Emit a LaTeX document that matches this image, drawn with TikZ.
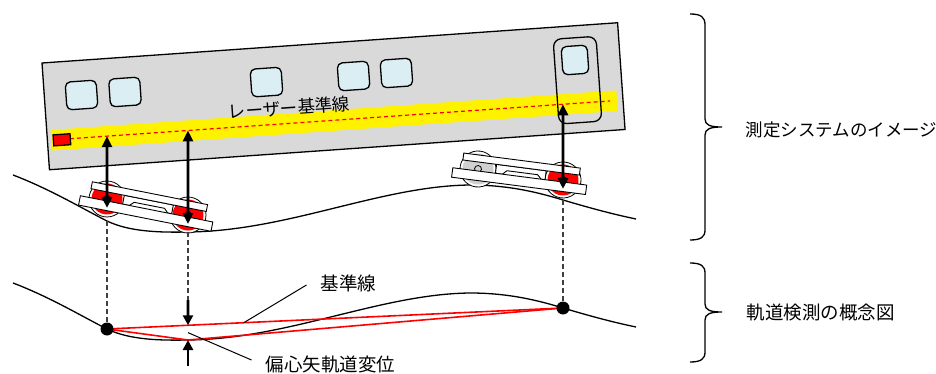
\documentclass[tikz,border=0pt]{standalone}
\usepackage{fontspec}
\newfontfamily\jp{Noto Sans CJK JP}
\usetikzlibrary{arrows.meta,calc}
\definecolor{bodygray}{HTML}{D9D9D9}
\definecolor{glass}{HTML}{DAEEF3}
\definecolor{wheelgray}{HTML}{D0D0D0}
\definecolor{rulegray}{HTML}{404040}
\begin{document}
\begin{tikzpicture}[x=1pt,y=-1pt,
  bodyline/.style={draw=black,line width=1.3pt},
  window/.style={bodyline,fill=glass,rounded corners=5pt},
  laser/.style={red,line width=1.2pt,dash pattern=on 4pt off 3pt},
  measure/.style={line width=2.8pt,>={Triangle[length=11pt,width=10pt]},<->},
  gauge/.style={line width=2.8pt,>={Triangle[length=10pt,width=10pt]},->},
  drop/.style={rulegray,line width=1.3pt,dash pattern=on 5pt off 3pt},
  rail/.style={line width=1.3pt},
  chord/.style={red,line width=1.6pt},
  leader/.style={line width=1pt},
  bracket/.style={line width=1.3pt},
  bogieframe/.style={draw=black,line width=0.9pt,fill=white},
  trackdot/.style={circle,fill=black,inner sep=0pt,minimum size=13pt},
  jplabel/.style={font=\jp\fontsize{18.5}{20}\selectfont,inner sep=0pt},
  jpkana/.style={font=\jp\fontsize{17.5}{20}\selectfont,inner sep=0pt},
  % one track line; the upper copy is the same line shifted up
  pics/track/.style={code={
    \draw[rail] (13,283) .. controls (50,297) and (85,318) .. (107,329)
      .. controls (130,340) and (160,340.5) .. (188,340)
      .. controls (288,339) and (380,294) .. (470,293)
      .. controls (510,293) and (540,301) .. (563,308)
      .. controls (590,316) and (612,322) .. (636,327);
  }},
  % bogie: #1 half wheel base, #2 rear wheel colour, #3 front wheel colour
  pics/bogie/.style n args={3}{code={
    \coordinate (-w1) at ({-#1},0);
    \coordinate (-w2) at (#1,0);
    \draw[line width=0.8pt,fill=white] (-w1) circle[radius=18pt];
    \fill[#2] (-w1) circle[radius=15.5pt];
    \draw[line width=0.8pt,fill=white] (-w2) circle[radius=18pt];
    \fill[#3] (-w2) circle[radius=15.5pt];
    \draw[line width=0.8pt,fill=#2] (-w1) circle[radius=3.5pt];
    \draw[line width=0.8pt,fill=#3] (-w2) circle[radius=3.5pt];
    \draw[bogieframe] (-25,-7) -- (25,-7) -- (25,2) -- (21,2) -- (17,-2)
      -- (-14,-2) -- (-18,2) -- (-25,2) -- cycle;
    \draw[bogieframe] (-59,-14) rectangle (58.5,-7);
    \draw[bogieframe] (-68,2) rectangle (67,11.5);
  }}
]
\useasboundingbox (0,0) rectangle (936,374);
\fill[white] (0,0) rectangle (936,374);

% tracks
\pic at (0,-108) {track};
\pic at (0,0) {track};

% car body
\begin{scope}[shift={(42,63)},rotate=4]
  \draw[bodyline,fill=bodygray] (0,0) rectangle (577,107);
  \foreach \u in {37.2,80.8,222.6,309.9,352.9}
    \draw[window] (\u-15.5,20.8) rectangle (\u+15.5,48.6);
  \draw[window] (518.9,20.1) rectangle (544.9,48.3);
  \fill[yellow] (4,67.4) rectangle (571,88);
  \draw[bodyline,rounded corners=8pt] (511.5,12) rectangle (554.5,97);
  \coordinate (L0) at (22.6,77.5);
  \coordinate (L1) at (564,77.5);
  \draw[laser] (L0) -- (L1);
  \draw[bodyline,fill=red] (6,72.5) rectangle (23,83.5);
  \node[jpkana,rotate=4] (laserlabel) at (243.3,62) {レーザー基準線};
\end{scope}

% bogies
\pic[rotate=-11.2] (bA) at (147.5,207) {bogie={41.28}{red}{red}};
\pic[rotate=-7.37] (bB) at (520.5,174.5) {bogie={42.85}{wheelgray}{red}};

\coordinate (w1) at (bA-w1);
\coordinate (w2) at (bA-w2);
\coordinate (w3) at (bB-w2);
\foreach \i in {1,2,3} {
  \coordinate (g\i) at ($(w\i)+(0,-90)$);
  \coordinate (t\i) at (intersection of L0--L1 and w\i--g\i);
  \coordinate (s\i) at ($(w\i)+(0,9)$);
  \draw[measure] (t\i) -- (s\i);
}

% measured points on the track
\coordinate (d1) at (107,329);
\coordinate (d2) at (188,340);
\coordinate (d3) at (563,308);
\coordinate (c1) at ($(d1)+(0,-108)$);
\coordinate (c2) at ($(d2)+(0,-108)$);
\coordinate (c3) at ($(d3)+(0,-108)$);
\coordinate (a2) at (188,300);
\coordinate (a3) at (188,366);

\draw[drop] (c1) -- (d1);
\draw[drop] (c2) -- (a2);
\draw[drop] (c3) -- (d3);

% reference chord and offset
\draw[chord] (d1) -- (d3);
\draw[chord] (d1) -- (d2) -- (d3);
\coordinate (k) at ($(d1)!{81/456}!(d3)$);
\draw[gauge] (a2) -- (k);
\draw[gauge] (a3) -- (d2);
\node[trackdot] (n1) at (d1) {};
\node[trackdot] (n3) at (d3) {};

% labels
\coordinate (k1) at ($(d1)!0.3!(d3)$);
\coordinate (k2) at ($(k)!0.5!(d2)$);
\node[jplabel,anchor=west] (kijun) at (320.5,283) {基準線};
\node[jplabel,anchor=west] (henshin) at (265.5,364) {偏心矢軌道変位};
\draw[leader] (k1) -- ([xshift=-14pt,yshift=-2pt]kijun.west);
\draw[leader] (k2) -- ([xshift=-14pt,yshift=4pt]henshin.west);

% braces and their captions
\draw[bracket] (690,14) .. controls (701,14) and (705,17) .. (705,25) -- (705,119)
  .. controls (705,125) and (710,127) .. (722,127)
  .. controls (710,127) and (705,129) .. (705,135) -- (705,230)
  .. controls (705,237) and (701,240) .. (690,240);
\draw[bracket] (690,263) .. controls (701,263) and (705,266) .. (705,273) -- (705,304)
  .. controls (705,310) and (710,312) .. (722,312)
  .. controls (710,312) and (705,314) .. (705,320) -- (705,352)
  .. controls (705,359) and (701,362) .. (690,362);
\node[jpkana,anchor=west] (system) at (745.5,130) {測定システムのイメージ};
\node[jplabel,anchor=west] (concept) at (746.5,313) {軌道検測の概念図};
\end{tikzpicture}
\end{document}
